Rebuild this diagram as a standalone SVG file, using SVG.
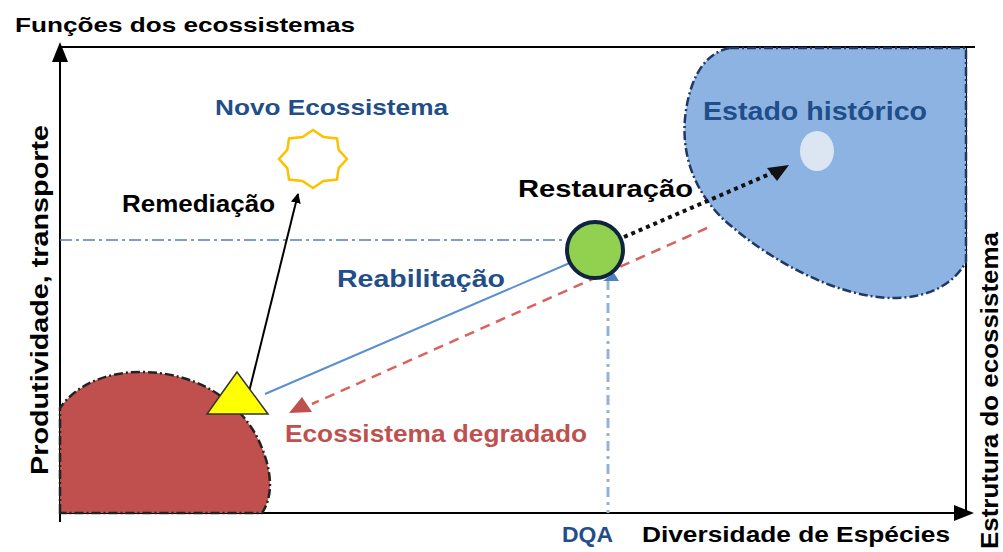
<svg xmlns="http://www.w3.org/2000/svg" width="1003" height="552" viewBox="0 0 1003 552">
<style>
text{font-family:"Liberation Sans",Arial,sans-serif;font-weight:bold}
.blk{fill:#000}
.blu{fill:#1F4E89}
.red{fill:#C0504D}
.axis{stroke:#000;stroke-width:2;fill:none}
</style>
<defs>
<marker id="ah" viewBox="0 0 10 10" refX="9" refY="5" markerWidth="5" markerHeight="5" orient="auto" markerUnits="strokeWidth">
<path d="M0,0 L10,5 L0,10 Z" fill="#000"/>
</marker>
</defs>
<rect width="1003" height="552" fill="#fff"/>
<!-- frame -->
<g id="axes">
<line class="axis" x1="60" y1="522" x2="60" y2="58"/>
<polygon points="60,42 52,62 68,62" fill="#000"/>
<line class="axis" x1="60" y1="513" x2="958" y2="513"/>
<polygon points="974,513 954,505 954,521" fill="#000"/>
<line class="axis" x1="60" y1="47" x2="975" y2="47"/>
<line class="axis" x1="966" y1="47" x2="966" y2="513"/>
</g>
<!-- regions -->
<g id="historico">
<path d="M730,48 L966,48 L966,262 C950,290 920,298 893,298 C840,298 770,262 722,218 C692,188 680,150 686,110 C692,72 708,52 730,48 Z" fill="#8DB3E2" stroke="#1F3864" stroke-width="2.5" stroke-dasharray="9 3 2 3"/>
<ellipse cx="817" cy="151" rx="17" ry="20" fill="#DCE6F2"/>
</g>
<g id="degradado">
<path d="M60,513 L60,408 C75,386 105,372 140,372 C195,372 235,398 256,435 C270,462 276,492 262,513 Z" fill="#C0504D" stroke="#222" stroke-width="2.5" stroke-dasharray="9 3 2 3"/>
</g>
<!-- reference lines and connectors -->
<g id="connectors">
<line x1="60" y1="240" x2="566" y2="240" stroke="#4F81BD" stroke-width="1.5" stroke-dasharray="12 4 3 4"/>
<line x1="608" y1="280" x2="608" y2="513" stroke="#95B3D7" stroke-width="3" stroke-dasharray="10 5 3 5"/>
<polygon points="603,281 619,281 614,273" fill="#4F81BD"/>
<line x1="265" y1="394" x2="572" y2="262" stroke="#5B8FD0" stroke-width="2"/>
<line x1="249" y1="392" x2="298" y2="194" stroke="#000" stroke-width="2" marker-end="url(#ah)"/>
<line x1="707" y1="228" x2="312" y2="404" stroke="#D9625E" stroke-width="2.5" stroke-dasharray="10 7"/>
<polygon points="302,397 289,413 312,412" fill="#C0504D"/>
<line x1="624" y1="237" x2="772" y2="173" stroke="#111" stroke-width="4" stroke-dasharray="4 4"/>
<polygon points="789,165 767,168 777,181" fill="#111"/>
</g>
<!-- nodes -->
<g id="triangulo">
<polygon points="237,372 207,414 268,414" fill="#FFFF00" stroke="#333" stroke-width="1.5"/>
</g>
<g id="circulo">
<circle cx="595" cy="250" r="28" fill="#92D050" stroke="#0F243E" stroke-width="4"/>
</g>
<g id="estrela">
<polygon points="347,159 338.7,168.1 337,179.5 323.5,181 313,188 302.5,181 289,179.5 287.3,168.1 279,159 287.3,149.9 289,138.5 302.5,137 313,130 323.5,137 337,138.5 338.7,149.9" fill="#fff" stroke="#FFC000" stroke-width="2.5" stroke-linejoin="miter"/>
</g>
<!-- labels -->
<g id="labels">
<text class="blk" x="15" y="32" font-size="21" textLength="340" lengthAdjust="spacingAndGlyphs">Funções dos ecossistemas</text>
<text class="blu" x="215" y="115" font-size="22" textLength="233" lengthAdjust="spacingAndGlyphs">Novo Ecossistema</text>
<text class="blu" x="703" y="120" font-size="26" textLength="224" lengthAdjust="spacingAndGlyphs">Estado histórico</text>
<text class="blk" x="518" y="197" font-size="24" textLength="175" lengthAdjust="spacingAndGlyphs">Restauração</text>
<text class="blk" x="122" y="212" font-size="24" textLength="153" lengthAdjust="spacingAndGlyphs">Remediação</text>
<text class="blu" x="337" y="287" font-size="24" textLength="168" lengthAdjust="spacingAndGlyphs">Reabilitação</text>
<text class="red" x="285" y="442" font-size="24" textLength="302" lengthAdjust="spacingAndGlyphs">Ecossistema degradado</text>
<text class="blu" x="562" y="542" font-size="22" textLength="51" lengthAdjust="spacingAndGlyphs">DQA</text>
<text class="blk" x="642" y="542" font-size="22" textLength="308" lengthAdjust="spacingAndGlyphs">Diversidade de Espécies</text>
<text class="blk" transform="translate(48,475) rotate(-90)" font-size="24" textLength="350" lengthAdjust="spacingAndGlyphs">Produtividade, transporte</text>
<text class="blk" transform="translate(998,549) rotate(-90)" font-size="23" textLength="317" lengthAdjust="spacingAndGlyphs">Estrutura do ecossistema</text>
</g>
</svg>
